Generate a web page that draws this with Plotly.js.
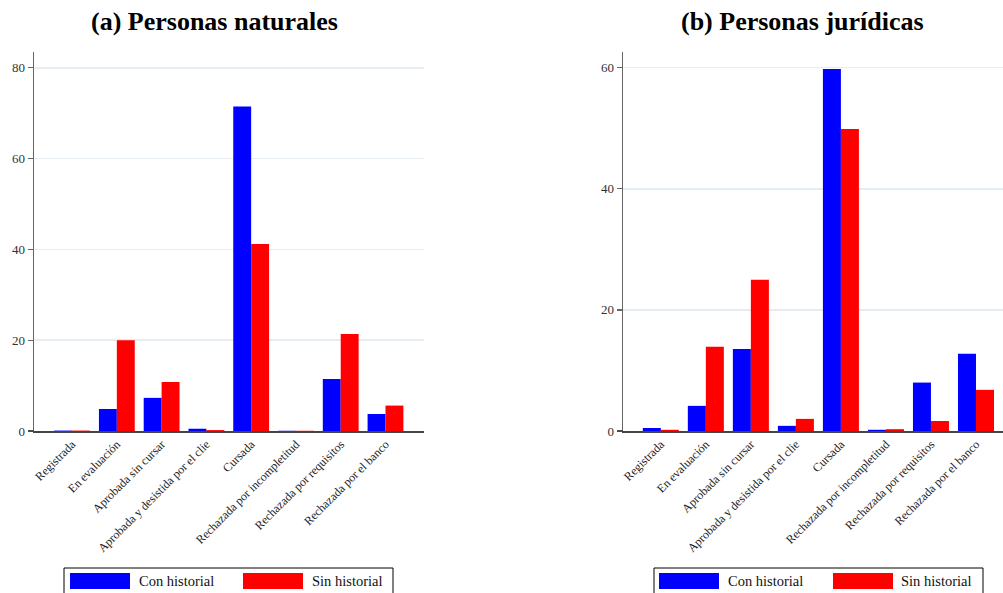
<!DOCTYPE html>
<html>
<head>
<meta charset="utf-8">
<script src="https://cdn.plot.ly/plotly-3.0.1.min.js"></script>
<style>html,body{margin:0;padding:0;background:#fff}#chart{width:1003px;height:593px}</style>
</head>
<body>
<div id="chart"></div>
<script>
// ---- data ----
const categories = ["Registrada", "En evaluación", "Aprobada sin cursar", "Aprobada y desistida por el clie", "Cursada", "Rechazada por incompletitud", "Rechazada por requisitos", "Rechazada por el banco"];
const seriesNames = ["Con historial", "Sin historial"];
const naturalesCon = [0.1, 4.85, 7.3, 0.5, 71.5, 0.05, 11.45, 3.75];
const naturalesSin = [0.1, 20.0, 10.8, 0.2, 41.2, 0.05, 21.35, 5.6];
const juridicasCon = [0.5, 4.15, 13.55, 0.85, 59.8, 0.2, 8.0, 12.75];
const juridicasSin = [0.2, 13.9, 25.0, 2.0, 49.9, 0.3, 1.65, 6.8];
const yTicksA = [0, 20, 40, 60, 80];
const yTicksB = [0, 20, 40, 60];
const titleA = "(a) Personas naturales";
const titleB = "(b) Personas jurídicas";

const W = 1003, H = 593;
const px = v => v / W;
const py = v => 1 - v / H;
const FONT = "Liberation Serif, Times New Roman, serif";
const BLUE = "#0000ff", RED = "#ff0000";

const traces = [
  {type: "bar", x: categories, y: naturalesCon, name: seriesNames[0], marker: {color: BLUE, line: {width: 0}}, xaxis: "x", yaxis: "y", showlegend: false},
  {type: "bar", x: categories, y: naturalesSin, name: seriesNames[1], marker: {color: RED, line: {width: 0}}, xaxis: "x", yaxis: "y", showlegend: false},
  {type: "bar", x: categories, y: juridicasCon, name: seriesNames[0], marker: {color: BLUE, line: {width: 0}}, xaxis: "x2", yaxis: "y2", showlegend: false},
  {type: "bar", x: categories, y: juridicasSin, name: seriesNames[1], marker: {color: RED, line: {width: 0}}, xaxis: "x2", yaxis: "y2", showlegend: false}
];

function xAxis(domain, range, anchor) {
  return {
    domain: domain, range: range, anchor: anchor, type: "category",
    showline: true, linecolor: "#444", linewidth: 1.5,
    showgrid: false, zeroline: false, ticks: "",
    tickangle: -45, tickfont: {family: FONT, size: 12, color: "#222"},
    automargin: false, fixedrange: true
  };
}
function yAxis(domain, range, ticks, anchor) {
  return {
    domain: domain, range: range, anchor: anchor,
    tickvals: ticks, ticktext: ticks.map(String),
    showline: true, linecolor: "#666", linewidth: 1.5,
    ticks: "outside", ticklen: 5, tickcolor: "#666", tickwidth: 1.2,
    showgrid: true, gridcolor: "#e6edf2", gridwidth: 1.5,
    zeroline: false, tickfont: {family: FONT, size: 13, color: "#333"},
    automargin: false, fixedrange: true
  };
}

const yDom = [py(431), py(52)];

const shapes = [
  {type: "line", xref: "paper", yref: "paper", x0: px(28), x1: px(34), y0: py(431), y1: py(431), line: {color: "#444", width: 1.5}},
  {type: "line", xref: "paper", yref: "paper", x0: px(617), x1: px(623), y0: py(431), y1: py(431), line: {color: "#444", width: 1.5}}
];
const annotations = [
  {text: "<b>" + titleA + "</b>", xref: "paper", yref: "paper", x: px(214), y: py(21), xanchor: "center", yanchor: "middle", showarrow: false, font: {family: FONT, size: 26, color: "#000"}},
  {text: "<b>" + titleB + "</b>", xref: "paper", yref: "paper", x: px(802), y: py(21), xanchor: "center", yanchor: "middle", showarrow: false, font: {family: FONT, size: 26, color: "#000"}}
];

function addLegend(x0, x1, sw1, t1, sw2, t2) {
  shapes.push({type: "rect", xref: "paper", yref: "paper", x0: px(x0), x1: px(x1), y0: py(600), y1: py(568), line: {color: "#000", width: 1}, fillcolor: "rgba(0,0,0,0)"});
  shapes.push({type: "rect", xref: "paper", yref: "paper", x0: px(sw1), x1: px(sw1 + 60), y0: py(589), y1: py(573), line: {width: 0}, fillcolor: BLUE});
  shapes.push({type: "rect", xref: "paper", yref: "paper", x0: px(sw2), x1: px(sw2 + 60), y0: py(589), y1: py(573), line: {width: 0}, fillcolor: RED});
  annotations.push({text: seriesNames[0], xref: "paper", yref: "paper", x: px(t1), y: py(581), xanchor: "left", yanchor: "middle", showarrow: false, font: {family: FONT, size: 14.5, color: "#111"}});
  annotations.push({text: seriesNames[1], xref: "paper", yref: "paper", x: px(t2), y: py(581), xanchor: "left", yanchor: "middle", showarrow: false, font: {family: FONT, size: 14.5, color: "#111"}});
}
addLegend(64, 393, 70, 137, 243, 310);
addLegend(654, 983, 659, 726, 833, 899);

const layout = {
  width: W, height: H,
  margin: {l: 0, r: 0, t: 0, b: 0, pad: 0},
  paper_bgcolor: "#fff", plot_bgcolor: "#fff",
  barmode: "group", bargap: 0.2, bargroupgap: 0,
  showlegend: false,
  xaxis: xAxis([px(34), px(424)], [-0.85, 7.86], "y"),
  yaxis: yAxis(yDom, [0, 83.5], yTicksA, "x"),
  xaxis2: xAxis([px(623), 1], [-0.84, 7.6], "y2"),
  yaxis2: yAxis(yDom, [0, 62.6], yTicksB, "x2"),
  shapes: shapes,
  annotations: annotations,
  font: {family: FONT}
};

Plotly.newPlot("chart", traces, layout, {displayModeBar: false, staticPlot: true});
</script>
</body>
</html>
